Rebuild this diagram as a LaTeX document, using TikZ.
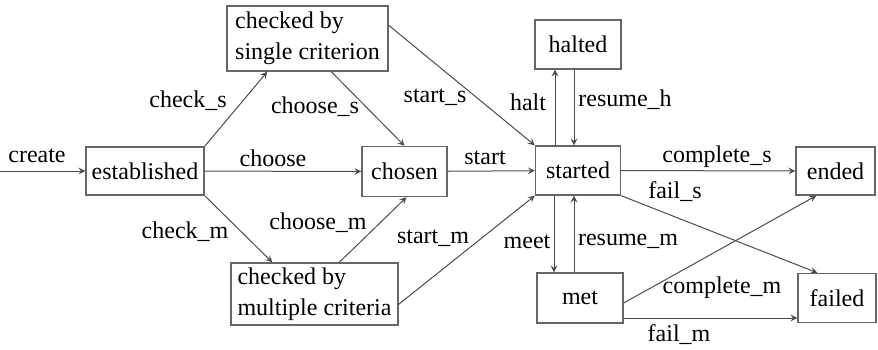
\documentclass[tikz,border=0pt]{standalone}
\usepackage{fontspec}
\setmainfont{Liberation Serif}
\usetikzlibrary{arrows}
\usetikzlibrary{calc}
\usetikzlibrary{positioning}

\begin{document}
\begin{tikzpicture}[
	x=0.5pt, y=-0.5pt,
	> = stealth,
	every node/.style = {font=\fontsize{12}{15.5}\selectfont},
	box/.style = {draw=black!60, line width=0.7pt, inner sep=0pt, align=left},
	line/.style = {->, draw=black!70, line width=0.5pt}
	]
	\useasboundingbox (0,0) rectangle (878,349);

	\node[box, minimum width=59pt,   minimum height=24pt]   (est) at (145,171)   {established};
	\node[box, minimum width=80.5pt, minimum height=32.5pt] (chs) at (307.5,38.5) {checked by\\single criterion};
	\node[box, minimum width=42.5pt, minimum height=25pt]   (chn) at (404.5,171.5) {chosen};
	\node[box, minimum width=83.5pt, minimum height=31pt]   (chm) at (314.5,294) {checked by\\multiple criteria};
	\node[box, minimum width=43pt,   minimum height=24.5pt] (hal) at (578,44.5)  {halted};
	\node[box, minimum width=42.5pt, minimum height=24.5pt] (sta) at (578,170.5) {started};
	\node[box, minimum width=39.5pt, minimum height=24pt]   (ended) at (835.5,171) {ended};
	\node[box, minimum width=43pt,   minimum height=25pt]   (met) at (580,298)   {met};
	\node[box, minimum width=39pt,   minimum height=24.5pt] (fai) at (837,298)   {failed};

	\coordinate (in) at (0,171);

	\draw[line] (in) -- (est) node at (37,156) {create};
	\draw[line] (est) -- (chn) node at (273,158) {choose};
	\draw[line] (est.north east) -- ($(chs.south west)+(41,0)$) node at (188,101) {check\_s};
	\draw[line] ($(chs.south west)+(105,0)$) -- (chn.north) node at (315,107) {choose\_s};
	\draw[line] ($(chs.north east)+(0,20)$) -- (sta.north west) node at (435,97) {start\_s};
	\draw[line] (est.south east) -- ($(chm.north west)+(42,0)$) node at (185,232) {check\_m};
	\draw[line] ($(chm.north west)+(109,0)$) -- ($(chn.south)+(2,0)$) node at (318,223) {choose\_m};
	\draw[line] ($(chm.north east)+(0,42)$) -- (sta.south west) node at (433,238) {start\_m};
	\draw[line] (chn) -- (sta) node at (485,158) {start};

	\draw[line] ($(sta.north)+(-23,0)$) -- ($(hal.south)+(-23,0)$) node at (528,102) {halt};
	\draw[line] ($(hal.south)+(-4,0)$) -- ($(sta.north)+(-4,0)$) node at (625,100) {resume\_h};
	\draw[line] ($(sta.south)+(-24,0)$) -- ($(sta.south |- met.north)+(-24,0)$) node at (527,242) {meet};
	\draw[line] ($(sta.south |- met.north)+(-4,0)$) -- ($(sta.south)+(-4,0)$) node at (628,241) {resume\_m};

	\draw[line] (sta) -- (ended) node at (717,157) {complete\_s};
	\draw[line] (sta.south east) -- ($(fai.north west)+(20,0)$) node at (675,192) {fail\_s};
	\draw[line] ($(met.east)+(0,5)$) -- ($(ended.south west)+(21,0)$) node at (722,288) {complete\_m};
	\draw[line] ($(met.east)+(0,20)$) -- ($(fai.west)+(0,20)$) node at (679,335) {fail\_m};

\end{tikzpicture}
\end{document}
